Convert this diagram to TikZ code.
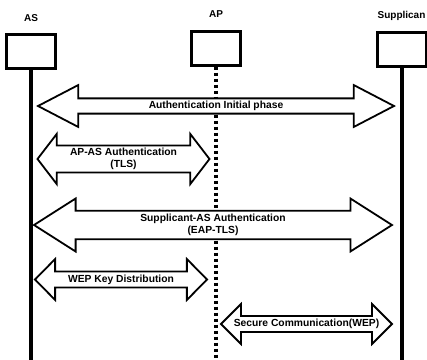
\documentclass[tikz,border=0pt]{standalone}
\usepackage{fontspec}
\setmainfont{Liberation Sans}
\usepackage{tikz}
\usetikzlibrary{shapes,arrows,positioning}
\usetikzlibrary{shapes.arrows}
\tikzstyle{lifeline} = [line width=4pt]
\tikzstyle{apline} = [line width=3.5pt, dash pattern=on 3.5pt off 2.5pt]

\begin{document}
\begin{tikzpicture}[x=1pt, y=-1pt]
    \tikzstyle{entity} = [rectangle, draw, line width=3pt, minimum width=49pt, minimum height=34pt]
    \tikzstyle{rolename} = [inner sep=0pt, font=\bfseries\fontsize{10}{12}\selectfont]
    \tikzstyle{phasearrow} = [double arrow, draw, line width=1.8pt, fill=white, inner sep=0pt,
        align=center, font=\bfseries\fontsize{10.3}{12}\selectfont]
    \useasboundingbox (0,0) rectangle (427,359);
    \node [entity] (as) at (31,51.5) {};
    \node [entity] (ap) at (216,48) {};
    \node [entity] (sup) at (401.5,49) {};
    \node [rolename] (aslabel) [above=11pt of as] {AS};
    \node [rolename] (aplabel) [above=12pt of ap] {AP};
    \node [rolename] (suplabel) [above=10pt of sup] {Supplican};

    % Lifelines
    \coordinate (bottom) at (0,362);
    \draw [lifeline] (as) -- (as |- bottom);
    \draw [apline] (ap) -- (ap |- bottom);
    \draw [lifeline] (sup) -- (sup |- bottom);

    % Phases
    \node [phasearrow, minimum height=356pt, minimum width=42pt, double arrow head extend=10pt,
        double arrow tip angle=55] (initphase) at (216,106) {Authentication Initial phase};
    \node [phasearrow, minimum height=172pt, minimum width=50pt, double arrow head extend=10pt,
        double arrow tip angle=105] (apas) at (123.5,159) {AP-AS Authentication\\(TLS)};
    \node [phasearrow, minimum height=358pt, minimum width=53pt, double arrow head extend=10pt,
        double arrow tip angle=65] (suppas) at (213,225) {Supplicant-AS Authentication\\(EAP-TLS)};
    \node [phasearrow, minimum height=172pt, minimum width=41pt, double arrow head extend=9pt,
        double arrow tip angle=91] (wepkey) at (121,279.5) {WEP Key Distribution};
    \node [phasearrow, minimum height=171pt, minimum width=40pt, double arrow head extend=8.5pt,
        double arrow tip angle=90] (securecomm) at (306.5,324) {Secure Communication(WEP)};
\end{tikzpicture}
\end{document}
